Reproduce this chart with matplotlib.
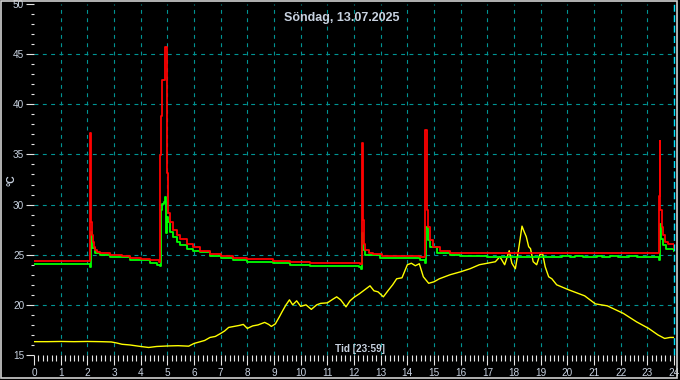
import matplotlib
matplotlib.use("Agg")
import matplotlib.pyplot as plt
from matplotlib.patches import Rectangle
from matplotlib.ticker import MultipleLocator

plt.rcParams['font.family'] = ['Liberation Sans', 'DejaVu Sans']

# --- data (hours, degC) ---
red_t = [0, 2.10, 2.12, 2.14, 2.17, 2.20, 2.25, 2.30, 2.36, 2.47, 2.85, 3.3, 3.6, 4.0, 4.35, 4.70,
         4.72, 4.77, 4.81, 4.91, 4.98, 5.02, 5.10, 5.22, 5.35, 5.47, 5.73, 5.97, 6.22, 6.6, 7.0,
         7.47, 8.0, 8.97, 9.6, 10.35, 11.2, 12.22,
         12.29, 12.33, 12.37, 12.43, 12.55, 12.72, 13.04, 13.8, 14.47,
         14.68, 14.72, 14.79, 14.85, 14.97, 15.22, 15.6, 15.97, 23.40,
         23.42, 23.46, 23.48, 23.55, 23.60, 23.66, 23.79, 24.0]
red_v = [24.4, 37.1, 32.6, 28.3, 27.0, 26.3, 25.8, 25.5, 25.3, 25.2, 25.0, 24.9, 24.7, 24.6, 24.5, 24.3,
         34.9, 38.8, 42.4, 45.7, 33.1, 29.2, 28.3, 27.5, 27.0, 26.6, 26.1, 25.8, 25.4, 25.1, 24.9,
         24.7, 24.55, 24.4, 24.3, 24.2, 24.15, 24.1,
         36.1, 28.5, 26.1, 25.5, 25.2, 25.05, 24.9, 24.85, 24.8,
         37.4, 29.5, 27.8, 26.5, 25.8, 25.4, 25.2, 25.15, 25.15,
         30.9, 36.3, 29.5, 27.8, 27.0, 26.3, 26.1, 25.7]

green_t = [0, 2.10, 2.12, 2.17, 2.30, 2.47, 2.85, 3.6, 4.35, 4.6, 4.72,
           4.77, 4.81, 4.86, 4.91, 4.96, 4.98, 5.02, 5.10, 5.22, 5.35, 5.47, 5.73, 5.97, 6.22,
           6.6, 7.0, 7.47, 8.0, 8.97, 9.6, 10.35, 11.5, 12.2, 12.27,
           12.30, 12.35, 12.40, 12.97, 14.47, 14.67,
           14.70, 14.79, 14.85, 15.1, 15.6, 15.97, 17.0, 19.5, 19.8, 20.1, 20.3, 20.6,
           21.1, 21.3, 21.6, 21.9, 22.3, 22.6, 23.38, 23.44,
           23.47, 23.53, 23.60, 23.70, 24.0]
green_v = [24.1, 23.8, 27.3, 25.7, 25.2, 25.0, 24.8, 24.5, 24.2, 24.0, 23.9,
           29.5, 30.1, 30.3, 30.8, 27.2, 28.8, 28.3, 27.3, 26.8, 26.3, 26.0, 25.6, 25.4, 25.25,
           24.9, 24.7, 24.5, 24.3, 24.15, 24.0, 23.9, 23.85, 23.8, 23.6,
           27.2, 25.5, 25.0, 24.65, 24.5, 24.15,
           27.8, 26.5, 25.8, 25.2, 25.0, 24.85, 24.8, 24.8, 24.9, 24.8, 24.9, 24.8,
           24.9, 24.8, 24.9, 24.8, 24.85, 24.8, 24.8, 24.5,
           28.1, 26.6, 26.0, 25.6, 25.4]

yellow_t = [0.0, 0.5, 1.0, 1.5, 2.0, 2.5, 2.9, 3.1, 3.3, 3.6, 4.0, 4.3, 4.6, 5.0, 5.4, 5.8,
            6.0, 6.2, 6.4, 6.6, 6.8, 7.0, 7.15, 7.3, 7.5, 7.7, 7.85, 8.0, 8.2, 8.4, 8.65, 8.8,
            8.9, 9.05, 9.2, 9.3, 9.45, 9.58, 9.7, 9.85, 10.0, 10.2, 10.4, 10.6, 10.75, 11.0,
            11.2, 11.35, 11.5, 11.7, 11.85, 12.0, 12.2, 12.4, 12.6, 12.75, 12.9, 13.1, 13.3,
            13.45, 13.6, 13.8, 14.0, 14.15, 14.3, 14.45, 14.6, 14.8, 15.0, 15.2, 15.6, 16.0,
            16.35, 16.7, 17.0, 17.3, 17.47, 17.65, 17.82, 17.92, 18.05, 18.17, 18.3, 18.38,
            18.46, 18.55, 18.62, 18.72, 18.85, 18.97, 19.07, 19.17, 19.3, 19.42, 19.6, 20.05,
            20.65, 21.05, 21.5, 22.1, 22.6, 23.05, 23.4, 23.65, 23.85, 24.0]
yellow_v = [16.33, 16.33, 16.35, 16.33, 16.35, 16.33, 16.3, 16.2, 16.07, 16.0, 15.85, 15.75, 15.85,
            15.9, 15.93, 15.88, 16.15, 16.3, 16.45, 16.75, 16.85, 17.15, 17.4, 17.75, 17.85,
            17.95, 18.05, 17.65, 17.9, 18.0, 18.25, 18.05, 17.85, 18.1, 18.8, 19.3, 20.0, 20.5,
            20.0, 20.4, 19.85, 20.0, 19.55, 20.0, 20.15, 20.2, 20.55, 20.8, 20.5, 19.8, 20.4,
            20.75, 21.1, 21.5, 21.9, 21.4, 21.3, 20.8, 21.5, 22.0, 22.6, 22.7, 24.0, 24.15,
            23.9, 24.1, 22.8, 22.15, 22.3, 22.6, 23.0, 23.3, 23.6, 24.0, 24.15, 24.3, 24.8,
            24.0, 25.4, 24.15, 23.6, 25.5, 27.85, 27.3, 26.8, 25.8, 25.6, 24.3, 24.0, 25.0,
            25.15, 23.8, 22.8, 22.6, 22.0, 21.5, 20.9, 20.1, 19.9, 19.15, 18.3, 17.65, 17.0,
            16.65, 16.75, 16.75]

title = "Söndag, 13.07.2025"
x_label = "Tid [23:59]"
y_label = "°C"

txt_col = '#c8d2e0'
grid_col = '#009494'

fig = plt.figure(figsize=(6.8, 3.8), dpi=100, facecolor='black')
ax = fig.add_axes([34 / 680, 1 - 355 / 380, 640 / 680, 351 / 380])
ax.set_facecolor('black')

# grid (no lines on the axes edges)
for gx in range(1, 24):
    ax.axvline(gx, color=grid_col, lw=0.8, dashes=(3.5, 4), zorder=1)
for gy in range(20, 50, 5):
    ax.axhline(gy, color=grid_col, lw=0.8, dashes=(3.5, 4), zorder=1)
ax.axvline(24, color='#00e5ff', lw=1.0, dashes=(5, 2.5), zorder=1, clip_on=False)

ax.plot(yellow_t, yellow_v, color='#ffff00', lw=1.0, zorder=3)
ax.plot(green_t, green_v, color='#00ff00', lw=1.3, drawstyle='steps-post', zorder=4)
ax.plot(red_t, red_v, color='#ff0000', lw=1.3, drawstyle='steps-post', zorder=5)

ax.set_xlim(0, 24)
ax.set_ylim(15, 50)
for s in ax.spines.values():
    s.set_visible(False)

ax.xaxis.set_major_locator(MultipleLocator(1))
ax.xaxis.set_minor_locator(MultipleLocator(1 / 6))
ax.yaxis.set_major_locator(MultipleLocator(5))
ax.yaxis.set_minor_locator(MultipleLocator(1))
ax.tick_params(axis='both', which='major', colors='#e6e6e6', labelcolor=txt_col,
               labelsize=7.2, width=0.8)
ax.tick_params(axis='both', which='minor', colors='#e6e6e6', width=0.8)
ax.tick_params(axis='x', which='major', length=7, pad=2)
ax.tick_params(axis='x', which='minor', length=4)
ax.tick_params(axis='y', which='major', length=6, pad=1)
ax.tick_params(axis='y', which='minor', length=2.5)

fig.text(0.502, 1 - 18 / 380, title, color=txt_col, fontsize=9, fontweight='bold',
         ha='center', va='center')
fig.text(360 / 680, 1 - 349 / 380, x_label, color=txt_col, fontsize=7.2, fontweight='bold',
         ha='center', va='center')
fig.text(11 / 680, 1 - 180 / 380, y_label, color=txt_col, fontsize=7.5, fontweight='bold',
         ha='center', va='center', rotation=90)

# light frame round the figure
fig.patches.append(Rectangle((0.0015, 0.0053), 0.9948, 0.9921, transform=fig.transFigure,
                             fill=False, edgecolor='#d0d0d0', lw=1.2))

fig.savefig('out.png', dpi=100, facecolor='black')
